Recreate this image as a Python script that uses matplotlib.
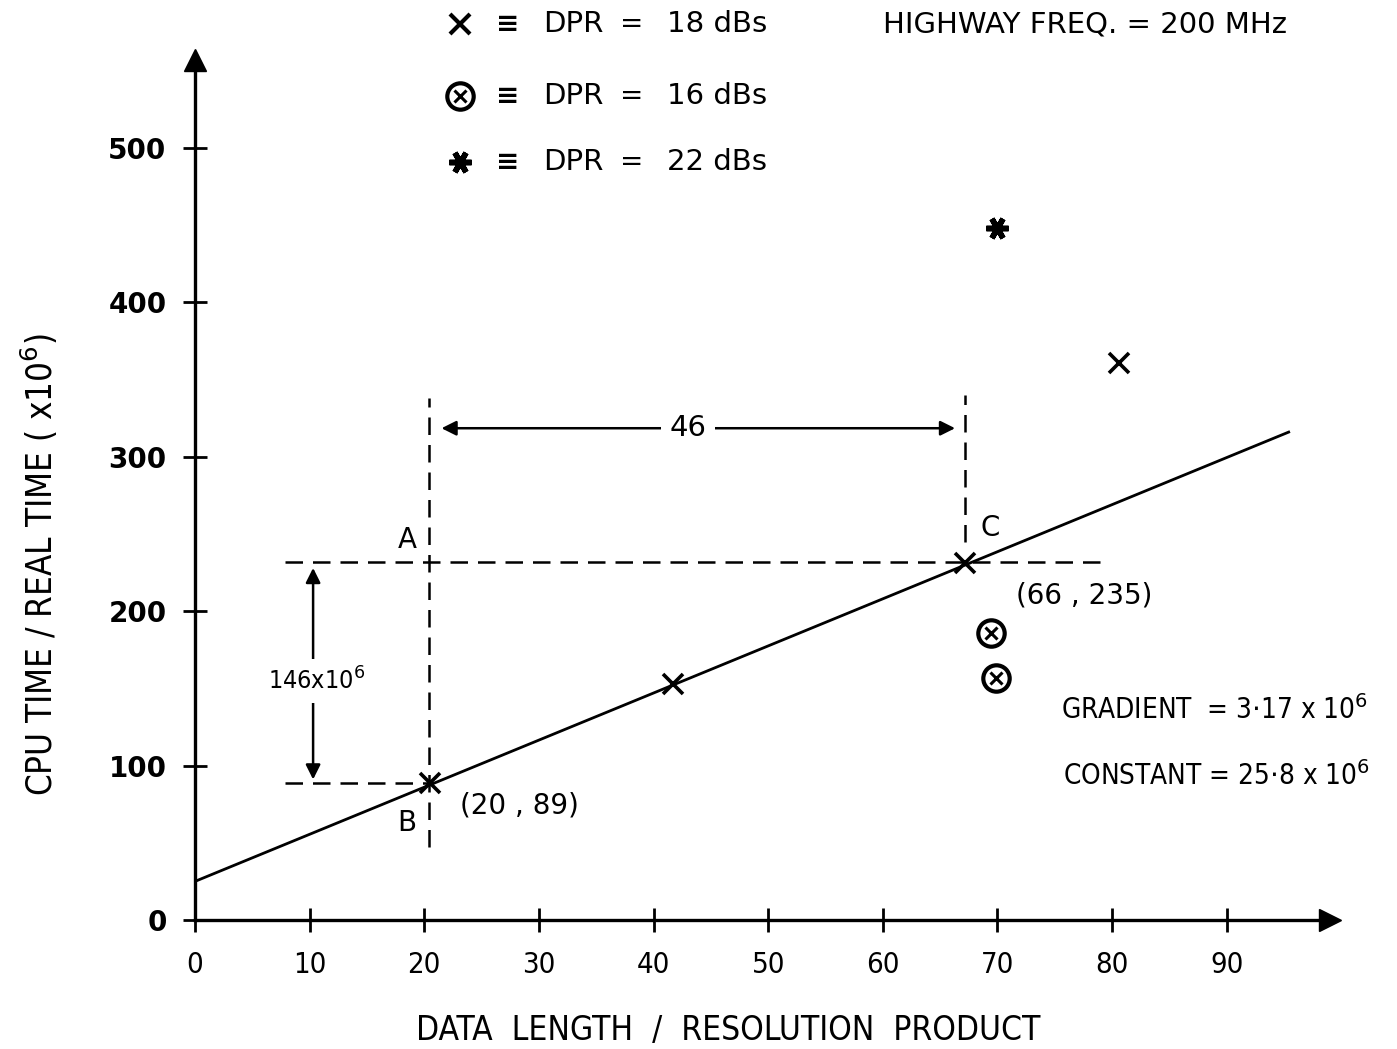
import matplotlib
matplotlib.use('Agg')
import matplotlib.pyplot as plt

dpr18_x = [20.5, 41.7, 67.2, 80.6]
dpr18_y = [89, 153, 231, 361]
dpr16_x = [69.4, 69.9]
dpr16_y = [186, 157]
dpr22_x = [70.0]
dpr22_y = [448]

# fitted straight line
fit_x = [0, 95.4]
fit_y = [25, 316]

x_ticks = [0, 10, 20, 30, 40, 50, 60, 70, 80, 90]
y_ticks = [0, 100, 200, 300, 400, 500]

# construction points B and C used for the gradient
b_x, b_y = 20.4, 89
c_x, c_y = 67.2, 232

plt.rcParams['font.family'] = ['DejaVu Sans']
plt.rcParams['mathtext.fontset'] = 'dejavusans'

fig = plt.figure(figsize=(13.97, 10.49), dpi=100)
ax = fig.add_axes([0.1396, 0.123, 0.8124, 0.8198])
ax.set_xlim(0, 99)
ax.set_ylim(0, 557)

for side in ['top', 'right']:
    ax.spines[side].set_visible(False)
for side in ['left', 'bottom']:
    ax.spines[side].set_linewidth(2.4)

ax.set_xticks(x_ticks)
ax.set_yticks(y_ticks)
ax.tick_params(direction='inout', length=17, width=2.0, labelsize=20, pad=12)
ax.tick_params(axis='x', pad=14, labelsize=21)
for lbl in ax.get_xticklabels():
    lbl.set_fontstretch('condensed')
for lbl in ax.get_yticklabels():
    lbl.set_fontweight('bold')

# axis arrowheads
ax.plot([0], [557], marker='^', ms=16, color='black', clip_on=False)
ax.plot([99], [0], marker='>', ms=16, color='black', clip_on=False)

ax.set_xlabel('DATA  LENGTH  /  RESOLUTION  PRODUCT', fontsize=24, fontstretch='condensed')
ax.xaxis.set_label_coords(0.47, -0.128)
ax.xaxis.label.set_va('center')
ax.set_ylabel(r'CPU TIME / REAL TIME ( x10$^6$)', fontsize=25, fontstretch='condensed')
ax.yaxis.set_label_coords(-0.137, 0.413)
ax.yaxis.label.set_va('center')

# fit line
ax.plot(fit_x, fit_y, color='black', lw=2.0)

# dashed construction lines
dash = (0, (7, 4))
ax.plot([7.85, 79.8], [c_y, c_y], color='black', lw=1.8, linestyle=dash)
ax.plot([7.85, b_x], [b_y, b_y], color='black', lw=1.8, linestyle=dash)
ax.plot([b_x, b_x], [47, 338], color='black', lw=1.8, linestyle=dash)
ax.plot([c_x, c_x], [245, 340], color='black', lw=1.8, linestyle=dash)

# dimension arrows
ax.annotate('', xy=(21.5, 318.5), xytext=(66.3, 318.5),
            arrowprops=dict(arrowstyle='<|-|>', lw=1.8, color='black', mutation_scale=22,
                            shrinkA=0, shrinkB=0))
ax.text(43.0, 318.5, '46', fontsize=21, ha='center', va='center',
        bbox=dict(facecolor='white', edgecolor='none', pad=6))
ax.annotate('', xy=(10.3, 228), xytext=(10.3, 91),
            arrowprops=dict(arrowstyle='<|-|>', lw=1.8, color='black', mutation_scale=22,
                            shrinkA=0, shrinkB=0))
ax.text(10.6, 155, r'146x10$^6$', fontsize=18, ha='center', va='center', fontstretch='condensed',
        bbox=dict(facecolor='white', edgecolor='none', pad=6))

# data points
ax.plot(dpr18_x, dpr18_y, linestyle='none', marker='x', ms=14, mew=2.6, color='black')
ax.plot(dpr16_x, dpr16_y, linestyle='none', marker='o', ms=19, mew=3.0, mfc='none', color='black')
ax.plot(dpr16_x, dpr16_y, linestyle='none', marker='x', ms=9, mew=2.2, color='black')
ax.plot(dpr22_x, dpr22_y, linestyle='none', marker=(6, 2, 90), ms=16, mew=4.0, color='black')

# point labels
ax.text(18.5, 246, 'A', fontsize=20, ha='center', va='center')
ax.text(18.5, 63, 'B', fontsize=20, ha='center', va='center')
ax.text(69.4, 254, 'C', fontsize=20, ha='center', va='center')
ax.text(23.1, 74, '(20 , 89)', fontsize=20, ha='left', va='center')
ax.text(71.6, 210, '(66 , 235)', fontsize=20, ha='left', va='center')

ax.text(75.5, 136, r'GRADIENT  = 3$\cdot$17 x 10$^6$', fontsize=20, ha='left', va='center',
        fontstretch='condensed')
ax.text(75.7, 93, r'CONSTANT = 25$\cdot$8 x 10$^6$', fontsize=20, ha='left', va='center',
        fontstretch='condensed')

# key at the top
key_rows = [(580, 'x', '18 dBs'), (534, 'o', '16 dBs'), (491, '*', '22 dBs')]
for row_y, sym, label in key_rows:
    if sym == 'x':
        ax.plot([23.1], [row_y], marker='x', ms=14, mew=3.0, color='black', clip_on=False)
    elif sym == 'o':
        ax.plot([23.1], [row_y], marker='o', ms=19, mew=3.0, mfc='none', color='black', clip_on=False)
        ax.plot([23.1], [row_y], marker='x', ms=9, mew=2.2, color='black', clip_on=False)
    else:
        ax.plot([23.1], [row_y], marker=(6, 2, 90), ms=16, mew=4.0, color='black', clip_on=False)
    ax.text(27.3, row_y, '\u2261', fontsize=20, fontweight='bold', ha='center', va='center')
    ax.text(30.4, row_y, 'DPR', fontsize=21, ha='left', va='center')
    ax.text(38.1, row_y, '=', fontsize=20, ha='center', va='center')
    ax.text(41.2, row_y, label, fontsize=21, ha='left', va='center')

ax.text(60.0, 580, 'HIGHWAY FREQ. = 200 MHz', fontsize=21, ha='left', va='center')

fig.savefig('out.png', dpi=100)
